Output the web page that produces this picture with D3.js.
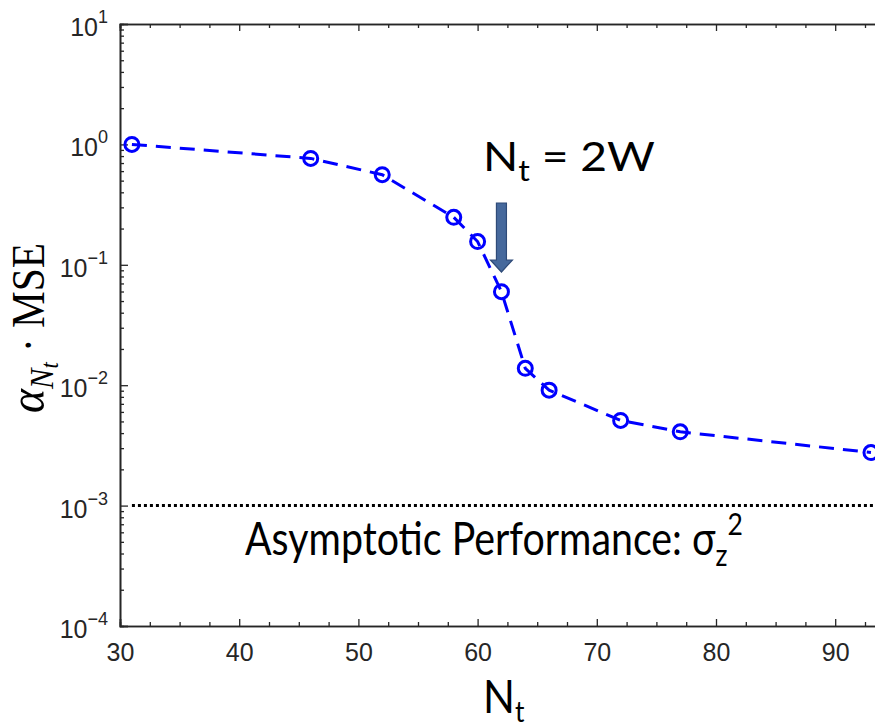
<!DOCTYPE html>
<html>
<head>
<meta charset="utf-8">
<script src="https://cdn.jsdelivr.net/npm/d3@7"></script>
<style>
  html, body { margin: 0; padding: 0; background: #fff; }
  svg { display: block; }
</style>
</head>
<body>
<svg id="chart"></svg>
<script>
// data
const nt = [31, 46, 52, 58, 60, 62, 64, 66, 72, 77, 93]
const mse = [1.0, 0.765, 0.56, 0.248, 0.156, 0.0598, 0.0138, 0.0091, 0.0051, 0.0041, 0.00276]
const asymptote = 1e-3
const asymptoteSpan = [31, 96]
const xTicks = [30, 40, 50, 60, 70, 80, 90]
const yExponents = [-4, -3, -2, -1, 0, 1]

const width = 875, height = 727
const plotLeft = 120, plotTop = 24, plotBottom = 626
const svg = d3.select('#chart').attr('width', width).attr('height', height)

const x = d3.scaleLinear().domain([30, 95]).range([plotLeft, plotLeft + 65 * 11.92])
const y = d3.scaleLog().domain([1e-4, 10]).range([plotBottom, plotTop])

const axisColor = '#262626'
const tickFont = 'Liberation Sans, Arial, sans-serif'

// minor ticks
const xMinor = d3.range(30, 96, 2.5).filter(v => v % 10 !== 0)
const yMinor = []
yExponents.slice(0, -1).forEach(e => {
  for (let k = 2; k <= 9; k++) yMinor.push(k * Math.pow(10, e))
})

const gAx = svg.append('g')

function styleAxis(g) {
  g.select('.domain').attr('stroke', axisColor).attr('stroke-width', 1.6)
  g.selectAll('.tick line').attr('stroke', axisColor).attr('stroke-width', 1.3)
}

// bottom
gAx.append('g').attr('transform', `translate(0,${plotBottom})`)
  .call(d3.axisBottom(x).tickValues(xTicks).tickSize(-7).tickPadding(17).tickFormat(d3.format('d')))
  .call(styleAxis)
  .call(g => g.selectAll('.tick text').attr('font-family', tickFont)
    .attr('font-size', 25).attr('fill', axisColor))
gAx.append('g').attr('transform', `translate(0,${plotBottom})`)
  .call(d3.axisBottom(x).tickValues(xMinor).tickSize(-4).tickFormat(''))
  .call(styleAxis)

// top
gAx.append('g').attr('transform', `translate(0,${plotTop})`)
  .call(d3.axisTop(x).tickValues(xTicks).tickSize(-7).tickFormat(''))
  .call(styleAxis)
gAx.append('g').attr('transform', `translate(0,${plotTop})`)
  .call(d3.axisTop(x).tickValues(xMinor).tickSize(-4).tickFormat(''))
  .call(styleAxis)

// left
gAx.append('g').attr('transform', `translate(${plotLeft},0)`)
  .call(d3.axisLeft(y).tickValues(yExponents.map(e => Math.pow(10, e))).tickSize(-8).tickFormat(''))
  .call(styleAxis)
gAx.append('g').attr('transform', `translate(${plotLeft},0)`)
  .call(d3.axisLeft(y).tickValues(yMinor).tickSize(-4).tickFormat(''))
  .call(styleAxis)

// y tick labels with superscripts
yExponents.forEach(e => {
  const t = svg.append('text')
    .attr('x', 108)
    .attr('y', y(Math.pow(10, e)) + 12)
    .attr('text-anchor', 'end')
    .attr('font-family', tickFont)
    .attr('font-size', 25)
    .attr('fill', axisColor)
  t.append('tspan').text('10')
  t.append('tspan').attr('dy', -13).attr('font-size', 18)
    .text(e < 0 ? '\u2212' + (-e) : String(e))
})

// asymptote
svg.append('line')
  .attr('x1', x(asymptoteSpan[0])).attr('x2', x(asymptoteSpan[1]))
  .attr('y1', y(asymptote)).attr('y2', y(asymptote))
  .attr('stroke', '#000').attr('stroke-width', 3).attr('stroke-dasharray', '3,3')

// series
const pts = nt.map((v, i) => [v, mse[i]])
svg.append('path')
  .datum(pts)
  .attr('d', d3.line().x(d => x(d[0])).y(d => y(d[1])))
  .attr('fill', 'none').attr('stroke', '#0000ff').attr('stroke-width', 3)
  .attr('stroke-dasharray', '15,9')

svg.selectAll('.mk')
  .data(pts)
  .enter()
  .append('circle')
  .attr('class', 'mk')
  .attr('cx', d => x(d[0]))
  .attr('cy', d => y(d[1]))
  .attr('r', 7)
  .attr('fill', 'none').attr('stroke', '#0000ff').attr('stroke-width', 3)

// arrow marking Nt = 2W
const ax = x(62)
const arrow = d3.path()
arrow.moveTo(ax - 5, 203)
arrow.lineTo(ax + 5, 203)
arrow.lineTo(ax + 5, 260)
arrow.lineTo(ax + 11, 260)
arrow.lineTo(ax, 272)
arrow.lineTo(ax - 11, 260)
arrow.lineTo(ax - 5, 260)
arrow.closePath()
svg.append('path').attr('d', arrow.toString())
  .attr('fill', '#46699c').attr('stroke', '#2f4b78').attr('stroke-width', 1.2)

const sans = 'Lato, Open Sans, sans-serif'

// squeeze or stretch a text horizontally so it spans the wanted width
function fit(t, x0, y0, w) {
  const bw = t.node().getBBox().width
  t.attr('transform', `translate(${x0},${y0}) scale(${w / bw},1)`)
}

const ann = svg.append('text')
  .attr('font-family', sans).attr('font-size', 40).attr('fill', '#000')
ann.append('tspan').text('N')
ann.append('tspan').attr('dy', 10).attr('font-size', 28).text('t')
ann.append('tspan').attr('dy', -10).text(' = 2W')
fit(ann, 483, 171, 172)

const asy = svg.append('text')
  .attr('font-family', sans).attr('font-size', 46).attr('fill', '#000')
asy.append('tspan').text('Asymptotic Performance: \u03c3')
asy.append('tspan').attr('dy', 11).attr('font-size', 31).text('z')
asy.append('tspan').attr('dy', -31).attr('font-size', 31).text('2')
fit(asy, 245, 555, 498)

// x label
const xl = svg.append('text')
  .attr('font-family', sans).attr('font-size', 46).attr('fill', '#000')
xl.append('tspan').text('N')
xl.append('tspan').attr('dy', 9).attr('font-size', 29).text('t')
fit(xl, 483, 713, 42)

// y label
const serif = 'Liberation Serif, Times New Roman, serif'
const yl = svg.append('text')
  .attr('text-anchor', 'middle')
  .attr('font-family', serif).attr('font-size', 46).attr('fill', '#000')
yl.append('tspan').attr('font-style', 'italic').attr('font-size', 51).text('\u03b1')
yl.append('tspan').attr('font-style', 'italic').attr('font-size', 34).attr('dy', 9).text('N')
yl.append('tspan').attr('font-style', 'italic').attr('font-size', 25).attr('dy', 5).text('t')
yl.append('tspan').attr('dy', -14).text(' \u00b7 MSE')
const ylw = yl.node().getBBox().width
yl.attr('transform', `translate(44,328) rotate(-90) scale(${170 / ylw},1)`)
</script>
</body>
</html>
